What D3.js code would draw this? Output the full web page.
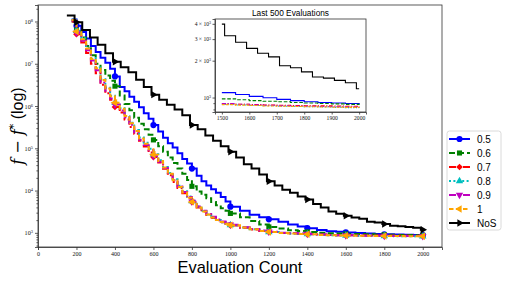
<!DOCTYPE html>
<html>
<head>
<meta charset="utf-8">
<script src="https://cdn.jsdelivr.net/npm/d3@7"></script>
<style>
  body { margin: 0; background: #fff; }
  svg { display: block; }
  .axis path, .axis line { stroke: #333; stroke-width: 0.8; }
  .axis text { font-family: "Liberation Serif", "DejaVu Serif", serif; fill: #111; }
</style>
</head>
<body>
<div id="chart"></div>
<script>
// evaluation counts where the scaled runs improve (step starts)
const evals = [175, 200, 225, 250, 275, 300, 325, 350, 375, 400, 425, 450, 475, 500, 525, 550, 575, 600,
  625, 650, 675, 700, 725, 750, 775, 800, 825, 850, 875, 900, 925, 950, 975, 1000,
  1050, 1100, 1150, 1200, 1250, 1300, 1350, 1400,
  1450, 1500, 1550, 1600, 1650, 1700, 1750, 1800, 1850, 1900, 1950, 2000];
// NoS run improves in batches of ~40 evaluations
const evalsNoS = [150, 190, 230, 270, 310, 350, 390, 430, 470, 510, 550, 590, 630, 670, 710, 750, 790, 830,
  870, 910, 950, 990, 1030, 1070, 1110, 1150, 1190, 1230, 1270, 1310, 1350, 1390, 1430, 1470,
  1510, 1550, 1590, 1630, 1670, 1710, 1750, 1790, 1830, 1870, 1910, 1950, 1990, 2000];

const s05 = [1.12e8, 7.94e7, 5.62e7, 3.98e7, 2.63e7, 1.91e7, 1.38e7, 1.05e7, 7.59e6, 5.01e6,
  2.82e6, 2.24e6, 1.66e6, 1.26e6, 9.33e5, 6.76e5, 5.01e5, 3.55e5, 2.51e5, 1.78e5,
  1.32e5, 1.05e5, 7.59e4, 5.62e4, 4.37e4, 3.31e4, 2.24e4, 1.66e4, 1.32e4, 1.07e4,
  8.91e3, 7.08e3, 5.50e3, 4.17e3, 3.31e3, 2.69e3, 2.34e3, 2.09e3, 1.82e3, 1.58e3, 1.41e3, 1.29e3,
  1175, 1096, 1059, 1023, 995, 966, 944, 923, 912, 902, 893, 887];
const s06 = [1.0e8, 6.31e7, 4.17e7, 2.63e7, 1.58e7, 1.0e7, 7.08e6, 5.25e6, 3.98e6, 2.95e6,
  1.78e6, 1.12e6, 7.94e5, 5.25e5, 3.80e5, 2.82e5, 2.09e5, 1.58e5, 1.12e5, 8.32e4,
  6.03e4, 4.47e4, 3.31e4, 2.51e4, 1.78e4, 1.26e4, 9.55e3, 7.94e3, 6.61e3, 5.37e3,
  4.47e3, 3.80e3, 3.31e3, 2.88e3, 2.34e3, 1.91e3, 1.58e3, 1.38e3, 1.26e3, 1.15e3, 1.10e3, 1.05e3,
  1000, 975, 959, 944, 933, 923, 912, 902, 893, 887, 879, 871];
const s07 = [1.0e8, 5.0e7, 3.2e7, 1.8e7, 1.0e7, 6.0e6, 3.2e6, 2.0e6, 1.4e6, 9.5e5,
  7.0e5, 4.8e5, 3.2e5, 2.2e5, 1.5e5, 1.1e5, 8.0e4, 6.2e4, 4.6e4, 3.3e4,
  2.3e4, 1.6e4, 1.15e4, 8.6e3, 6.6e3, 5.3e3, 4.0e3, 3.2e3, 2.65e3, 2.25e3,
  1.98e3, 1.78e3, 1.62e3, 1.50e3, 1.32e3, 1.20e3, 1.10e3, 1.04e3, 995, 970, 950, 930,
  910, 890, 882, 875, 870, 865, 861, 858, 855, 852, 850, 848];
const s08 = [1.1e8, 6.0e7, 4.0e7, 2.4e7, 1.35e7, 8.2e6, 4.3e6, 2.7e6, 1.75e6, 1.2e6,
  8.8e5, 5.8e5, 4.0e5, 2.7e5, 1.8e5, 1.35e5, 9.8e4, 7.2e4, 5.2e4, 3.6e4,
  2.6e4, 1.85e4, 1.3e4, 9.6e3, 7.2e3, 5.6e3, 4.2e3, 3.3e3, 2.7e3, 2.3e3,
  2.0e3, 1.78e3, 1.63e3, 1.52e3, 1.33e3, 1.21e3, 1.11e3, 1.04e3, 995, 970, 948, 928,
  900, 880, 870, 862, 856, 850, 845, 840, 836, 832, 828, 825];
const s09 = [1.05e8, 5.4e7, 3.5e7, 2.1e7, 1.2e7, 7.0e6, 3.6e6, 2.3e6, 1.5e6, 1.08e6,
  7.8e5, 5.4e5, 3.6e5, 2.4e5, 1.6e5, 1.2e5, 9.0e4, 6.6e4, 4.8e4, 3.4e4,
  2.45e4, 1.75e4, 1.25e4, 9.3e3, 7.0e3, 5.5e3, 4.2e3, 3.35e3, 2.8e3, 2.4e3,
  2.08e3, 1.85e3, 1.68e3, 1.56e3, 1.36e3, 1.24e3, 1.13e3, 1.06e3, 1.01e3, 985, 962, 940,
  912, 892, 881, 872, 865, 858, 853, 848, 844, 840, 837, 835];
const s10 = [1.08e8, 5.8e7, 3.8e7, 2.3e7, 1.3e7, 7.8e6, 4.1e6, 2.6e6, 1.7e6, 1.2e6,
  8.6e5, 5.8e5, 3.9e5, 2.55e5, 1.7e5, 1.28e5, 9.5e4, 7.0e4, 5.0e4, 3.5e4,
  2.5e4, 1.75e4, 1.22e4, 9.0e3, 6.8e3, 5.4e3, 4.0e3, 3.2e3, 2.7e3, 2.3e3,
  2.0e3, 1.8e3, 1.64e3, 1.52e3, 1.33e3, 1.21e3, 1.11e3, 1.04e3, 990, 965, 945, 925,
  895, 875, 867, 860, 854, 848, 844, 840, 837, 834, 831, 828];
const sNoS = [1.38e8, 9.55e7, 6.31e7, 4.17e7, 2.82e7, 1.78e7, 1.12e7, 8.32e6, 6.31e6, 4.17e6,
  2.82e6, 1.86e6, 1.41e6, 1.07e6, 8.32e5, 6.03e5, 3.55e5, 2.82e5, 2.0e5, 1.51e5,
  1.12e5, 8.32e4, 6.03e4, 4.17e4, 3.31e4, 2.40e4, 1.66e4, 1.32e4, 1.05e4, 8.91e3,
  7.24e3, 6.17e3, 4.79e3, 3.98e3, 3.2e3, 2.83e3, 2.52e3, 2.30e3, 2.15e3, 1.82e3,
  1.75e3, 1.62e3, 1.47e3, 1.44e3, 1.38e3, 1.32e3, 1.18e3, 1.18e3];

const labels = ["0.5", "0.6", "0.7", "0.8", "0.9", "1", "NoS"];
const markerEvals = [200, 400, 600, 800, 1000, 1200, 1400, 1600, 1800, 2000];
const xTicks = [0, 200, 400, 600, 800, 1000, 1200, 1400, 1600, 1800, 2000];
const yTicks = [1e3, 1e4, 1e5, 1e6, 1e7, 1e8];
const insetStart = 1500;
const insetXTicks = [1500, 1600, 1700, 1800, 1900, 2000];
const insetYTicks = [1e3, 2e3, 3e3, 4e3];

const series = [
  { name: labels[0], xs: evals, ys: s05, color: "#0000ff", dash: null, marker: "circle" },
  { name: labels[1], xs: evals, ys: s06, color: "#008000", dash: "6,3", marker: "square" },
  { name: labels[2], xs: evals, ys: s07, color: "#ff0000", dash: "7,2.5,2,2.5", marker: "diamond" },
  { name: labels[3], xs: evals, ys: s08, color: "#00bfbf", dash: "2,2.4", marker: "up" },
  { name: labels[4], xs: evals, ys: s09, color: "#bf00bf", dash: "7,2.5,2,2.5", marker: "down" },
  { name: labels[5], xs: evals, ys: s10, color: "#ffa500", dash: "4.5,2.5", marker: "left" },
  { name: labels[6], xs: evalsNoS, ys: sNoS, color: "#000000", dash: null, marker: "right" }
];
series.forEach(s => s.pts = s.xs.map((v, i) => [v, s.ys[i]]));

const width = 505, height = 282;
const svg = d3.select("#chart").append("svg")
  .attr("width", width).attr("height", height);

const M = { l: 38, r: 442, t: 5, b: 247 };
const x = d3.scaleLinear().domain([0, 2100]).range([M.l, M.r]);
const y = d3.scaleLog().domain([Math.pow(10, 2.665), Math.pow(10, 8.39)]).range([M.b, M.t]);

// value of a step series at evaluation v
function stepValue(s, v) {
  let val = null;
  s.pts.forEach(p => { if (p[0] <= v) val = p[1]; });
  return val;
}

function symbolFor(kind, size) {
  const sym = {
    circle: d3.symbolCircle, square: d3.symbolSquare, diamond: d3.symbolSquare,
    up: d3.symbolTriangle, down: d3.symbolTriangle, left: d3.symbolTriangle, right: d3.symbolTriangle
  }[kind];
  return d3.symbol().type(sym).size(size)();
}
const markerRot = { circle: 0, square: 0, diamond: 45, up: 0, down: 180, left: -90, right: 90 };
const markerSize = { circle: 30, square: 26, diamond: 22, up: 24, down: 24, left: 24, right: 24 };

// ---------- main axes ----------
svg.append("defs").append("clipPath").attr("id", "clipMain")
  .append("rect").attr("x", M.l).attr("y", M.t).attr("width", M.r - M.l).attr("height", M.b - M.t);

const xAxis = svg.append("g").attr("class", "axis").attr("transform", `translate(0,${M.b})`)
  .call(d3.axisBottom(x).tickValues(xTicks).tickSize(3).tickPadding(2).tickFormat(d3.format("d")));
xAxis.selectAll("text").attr("font-size", 6);

const minorY = y.ticks().filter(v => yTicks.indexOf(v) < 0);
svg.append("g").attr("class", "axis").attr("transform", `translate(${M.l},0)`)
  .call(d3.axisLeft(y).tickValues(minorY).tickSize(1.6).tickFormat(""))
  .select(".domain").remove();
const yAxis = svg.append("g").attr("class", "axis").attr("transform", `translate(${M.l},0)`)
  .call(d3.axisLeft(y).tickValues(yTicks).tickSize(3).tickPadding(2).tickFormat(""));
yAxis.selectAll(".tick text").attr("font-size", 6.2).each(function(d) {
  const t = d3.select(this);
  t.append("tspan").text("10");
  t.append("tspan").attr("dy", "-0.45em").attr("font-size", 4.4).text(Math.round(Math.log10(d)));
});

const plot = svg.append("g").attr("clip-path", "url(#clipMain)");
const line = d3.line().curve(d3.curveStepAfter).x(d => x(d[0])).y(d => y(d[1]));

series.forEach(s => {
  plot.append("path").datum(s.pts)
    .attr("fill", "none").attr("stroke", s.color).attr("stroke-width", 2)
    .attr("stroke-dasharray", s.dash).attr("d", line);
  plot.selectAll(null).data(markerEvals).enter().append("path")
    .attr("d", symbolFor(s.marker, markerSize[s.marker]))
    .attr("fill", s.color)
    .attr("transform", v => `translate(${x(v)},${y(stepValue(s, v))}) rotate(${markerRot[s.marker]})`);
});

// frame
svg.append("rect").attr("x", M.l).attr("y", M.t).attr("width", M.r - M.l).attr("height", M.b - M.t)
  .attr("fill", "none").attr("stroke", "#333").attr("stroke-width", 0.8);

// axis titles
svg.append("text").attr("x", (M.l + M.r) / 2).attr("y", 273).attr("text-anchor", "middle")
  .attr("font-family", "Liberation Sans, Arial, sans-serif").attr("font-size", 16.4)
  .text("Evaluation Count");

const yl = svg.append("text").attr("transform", `translate(23,${(M.t + M.b) / 2}) rotate(-90)`)
  .attr("text-anchor", "middle").attr("font-size", 16);
yl.append("tspan").attr("font-family", "DejaVu Serif, serif").attr("font-style", "italic").text("f");
yl.append("tspan").attr("font-family", "DejaVu Serif, serif").text(" \u2212 ");
yl.append("tspan").attr("font-family", "DejaVu Serif, serif").attr("font-style", "italic").text("f");
yl.append("tspan").attr("font-family", "DejaVu Serif, serif").attr("font-size", 11).attr("dy", -6).text("*");
yl.append("tspan").attr("font-family", "Liberation Sans, Arial, sans-serif").attr("dy", 6).text(" (log)");

// ---------- inset: last 500 evaluations ----------
const I = { l: 215, r: 366, t: 19, b: 112 };
const xi = d3.scaleLinear().domain([1475, 2025]).range([I.l, I.r]);
const yi = d3.scaleLog().domain([762, 4380]).range([I.b, I.t]);

svg.append("rect").attr("x", I.l).attr("y", I.t).attr("width", I.r - I.l).attr("height", I.b - I.t)
  .attr("fill", "#fff");
svg.select("defs").append("clipPath").attr("id", "clipInset")
  .append("rect").attr("x", I.l).attr("y", I.t).attr("width", I.r - I.l).attr("height", I.b - I.t);

svg.append("g").attr("class", "axis").attr("transform", `translate(0,${I.b})`)
  .call(d3.axisBottom(xi).tickValues(insetXTicks).tickSize(2.5).tickPadding(1.5).tickFormat(d3.format("d")))
  .selectAll("text").attr("font-size", 5.6);

const minorYi = [800, 900];
svg.append("g").attr("class", "axis").attr("transform", `translate(${I.l},0)`)
  .call(d3.axisLeft(yi).tickValues(minorYi).tickSize(1.6).tickFormat(""))
  .select(".domain").remove();
const yiAxis = svg.append("g").attr("class", "axis").attr("transform", `translate(${I.l},0)`)
  .call(d3.axisLeft(yi).tickValues(insetYTicks).tickSize(2.5).tickPadding(1.5).tickFormat(""));
yiAxis.selectAll(".tick text").attr("font-size", 5.6).each(function(d) {
  const t = d3.select(this);
  const mant = Math.round(d / 1000);
  t.append("tspan").text(mant === 1 ? "10" : mant + " \u00d7 10");
  t.append("tspan").attr("dy", "-0.45em").attr("font-size", 4).text("3");
});

const inset = svg.append("g").attr("clip-path", "url(#clipInset)");
const lineI = d3.line().curve(d3.curveStepAfter).x(d => xi(d[0])).y(d => yi(d[1]));
series.forEach(s => {
  const last = [[insetStart, stepValue(s, insetStart)]].concat(s.pts.filter(p => p[0] > insetStart));
  inset.append("path").datum(last)
    .attr("fill", "none").attr("stroke", s.color).attr("stroke-width", 1.1)
    .attr("stroke-dasharray", s.dash ? s.dash.split(",").map(v => v * 0.6).join(",") : null)
    .attr("d", lineI);
});
svg.append("rect").attr("x", I.l).attr("y", I.t).attr("width", I.r - I.l).attr("height", I.b - I.t)
  .attr("fill", "none").attr("stroke", "#333").attr("stroke-width", 0.8);

svg.append("text").attr("x", (I.l + I.r) / 2).attr("y", 15.5).attr("text-anchor", "middle")
  .attr("font-family", "Liberation Sans, Arial, sans-serif").attr("font-size", 8.3)
  .text("Last 500 Evaluations");

// ---------- legend ----------
const lg = svg.append("g").attr("transform", "translate(447,131)");
lg.append("rect").attr("width", 54).attr("height", 99).attr("rx", 2.5)
  .attr("fill", "#fff").attr("stroke", "#d0d0d0").attr("stroke-width", 0.8);
series.forEach((s, i) => {
  const row = lg.append("g").attr("transform", `translate(0,${8 + i * 14})`);
  row.append("line").attr("x1", 2).attr("x2", 23).attr("y1", 0).attr("y2", 0)
    .attr("stroke", s.color).attr("stroke-width", 2).attr("stroke-dasharray", s.dash);
  row.append("path").attr("d", symbolFor(s.marker, markerSize[s.marker]))
    .attr("fill", s.color).attr("transform", `translate(12.5,0) rotate(${markerRot[s.marker]})`);
  row.append("text").attr("x", 30).attr("y", 3.6)
    .attr("font-family", "Liberation Sans, Arial, sans-serif").attr("font-size", 10)
    .text(s.name);
});
</script>
</body>
</html>
